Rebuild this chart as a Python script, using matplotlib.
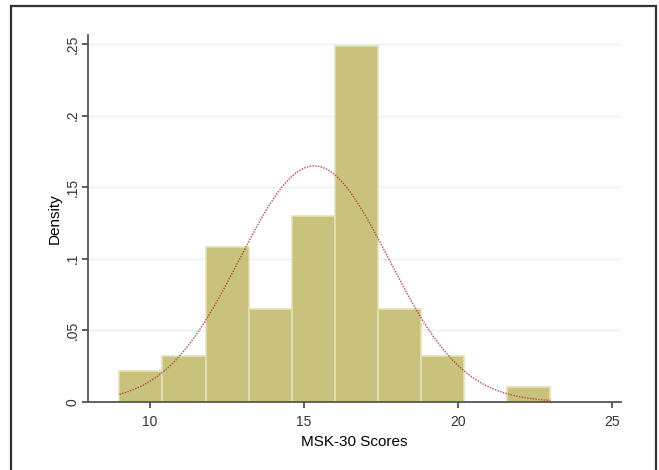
import numpy as np
import matplotlib.pyplot as plt
from matplotlib.patches import Rectangle

plt.rcParams['font.family'] = ['Liberation Sans', 'DejaVu Sans']

# гистограмма: 10 интервалов шириной 1.4 от 9 до 23
bin_edges = [9.0, 10.4, 11.8, 13.2, 14.6, 16.0, 17.4, 18.8, 20.2, 21.6, 23.0]
counts = [2, 3, 10, 6, 12, 23, 6, 3, 0, 1]

# параметры нормальной кривой
mu = 15.33
sigma = 2.42

y_ticks = [0, 0.05, 0.1, 0.15, 0.2, 0.25]
y_labels = ['0', '.05', '.1', '.15', '.2', '.25']
x_ticks = [10, 15, 20, 25]

edges = np.array(bin_edges)
widths = np.diff(edges)
n = sum(counts)
density = np.array(counts) / (n * widths)

fig = plt.figure(figsize=(6.59, 4.70), dpi=100)
ax = fig.add_axes([88 / 659, 1 - 402 / 470, (621 - 88) / 659, (402 - 35) / 470])

for yt in y_ticks[1:]:
    ax.axhline(yt, color='#e6f0f2', lw=1.0, zorder=0)

ax.bar(edges[:-1], density, width=widths, align='edge',
       color='#c8c27c', edgecolor='#e4e0b4', linewidth=1.2, zorder=2)

xs = np.linspace(edges[0], edges[-1], 300)
pdf = np.exp(-0.5 * ((xs - mu) / sigma) ** 2) / (sigma * np.sqrt(2 * np.pi))
ax.plot(xs, pdf, color='#b5484a', lw=1.0, ls=(0, (1, 1.0)), zorder=3)

ax.set_xlim(7.98, 25.3)
ax.set_ylim(0, 0.2563)
ax.set_xticks(x_ticks)
ax.set_yticks(y_ticks)
ax.set_yticklabels(y_labels, rotation=90, va='center')

for s in ['top', 'right']:
    ax.spines[s].set_visible(False)
for s in ['left', 'bottom']:
    ax.spines[s].set_color('#555555')
    ax.spines[s].set_linewidth(1.3)
ax.tick_params(colors='#333333', labelsize=10, length=4, width=1.1)
ax.tick_params(axis='x', pad=5)
ax.tick_params(axis='y', pad=2)

ax.set_xlabel('MSK-30 Scores', fontsize=11, labelpad=5)
ax.set_ylabel('Density', fontsize=11, labelpad=3)

# рамка вокруг графика
fig.patches.append(Rectangle((11 / 659, -0.01), (656 - 11) / 659, (470 - 6) / 470 + 0.01,
                             transform=fig.transFigure, fill=False,
                             edgecolor='#333333', lw=1.6))

fig.savefig('out.png', dpi=100)
